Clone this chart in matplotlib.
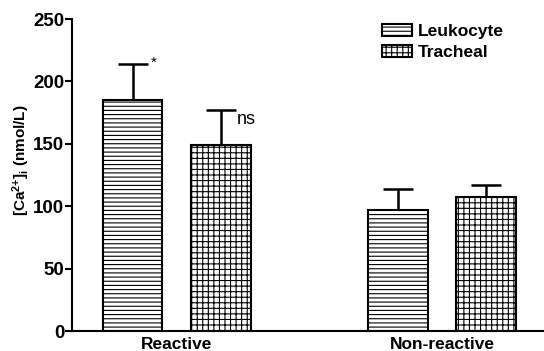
import matplotlib
matplotlib.use("Agg")
import matplotlib.pyplot as plt
import numpy as np

plt.rcParams["font.family"] = ["Liberation Sans", "DejaVu Sans"]
plt.rcParams["hatch.linewidth"] = 0.8
plt.rcParams["mathtext.fontset"] = "custom"
plt.rcParams["mathtext.rm"] = "Liberation Sans"
plt.rcParams["mathtext.bf"] = "Liberation Sans:bold"
plt.rcParams["mathtext.it"] = "Liberation Sans:italic"

groups = ["Reactive", "Non-reactive"]
series = ["Leukocyte", "Tracheal"]
means = {"Leukocyte": [185, 97], "Tracheal": [149, 107]}
errs = {"Leukocyte": [29, 17], "Tracheal": [28, 10]}
hatches = {"Leukocyte": "----", "Tracheal": "+++"}
marks = {"Leukocyte": ["*", ""], "Tracheal": ["ns", ""]}

fig = plt.figure(figsize=(5.44, 3.51), dpi=100)
ax = fig.add_axes([72 / 544, 20 / 351, 471 / 544, 312 / 351])

x = np.arange(len(groups))
width = 0.226
offs = {"Leukocyte": -0.167, "Tracheal": 0.167}
for s in series:
    xs = x + offs[s]
    ax.bar(xs, means[s], width, color="white", edgecolor="black", linewidth=1.5,
           hatch=hatches[s], label=s, zorder=2)
    ax.errorbar(xs, means[s], yerr=[np.zeros(len(xs)), errs[s]], fmt="none",
                ecolor="black", elinewidth=1.8, capsize=11, capthick=1.8, zorder=1)
    for xi, m, e, t in zip(xs, means[s], errs[s], marks[s]):
        if t == "*":
            ax.text(xi + 0.068, m + e + 1, t, fontsize=11, ha="left", va="center")
        elif t:
            ax.text(xi + 0.06, m + e - 1, t, fontsize=13, ha="left", va="top")

ax.set_xlim(-0.395, 1.38)
ax.set_ylim(0, 250)
ax.set_yticks([0, 50, 100, 150, 200, 250])
ax.set_xticks(x)
ax.set_xticklabels(groups, fontsize=12.5, fontweight="bold")
for lab in ax.get_yticklabels():
    lab.set_fontsize(13.5)
    lab.set_fontweight("bold")
ax.tick_params(axis="y", direction="out", length=5, width=1.5, pad=0.5)
ax.tick_params(axis="x", length=0, pad=4)
ax.spines["top"].set_visible(False)
ax.spines["right"].set_visible(False)
ax.spines["left"].set_linewidth(1.5)
ax.spines["bottom"].set_linewidth(1.5)
ax.set_ylabel(r"[Ca$^{\mathbf{2{+}}}$]$_\mathbf{i}$ (nmol/L)", fontsize=11,
              fontweight="bold")
ax.yaxis.set_label_coords(-40 / 471, 0.548)

leg = ax.legend(loc="upper left", bbox_to_anchor=(370 / 544, 1 - 12 / 351),
                bbox_transform=fig.transFigure, frameon=False,
                handlelength=1.7, handleheight=0.7, handletextpad=0.35,
                labelspacing=0.3, borderpad=0.2, prop={"weight": "bold", "size": 12.5})

fig.savefig("out.png", dpi=100)
